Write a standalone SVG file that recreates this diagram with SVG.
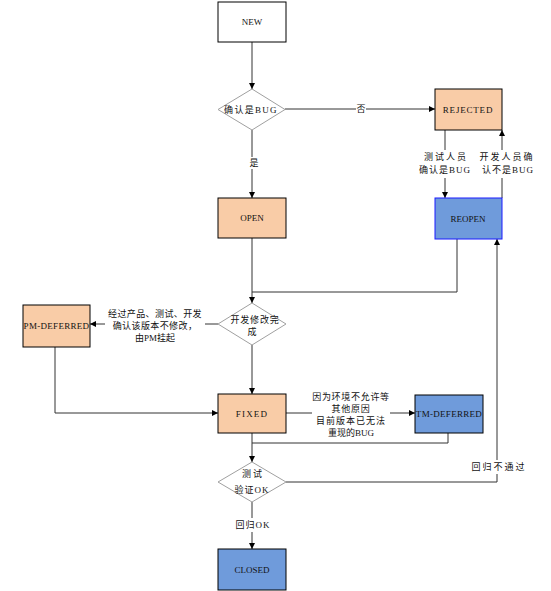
<svg xmlns="http://www.w3.org/2000/svg" width="551" height="591" viewBox="0 0 551 591">
<style>
.t{font-family:"Liberation Serif","Noto Sans CJK SC",serif;font-size:9px;fill:#111;text-anchor:middle;dominant-baseline:central}
.l{font-family:"Liberation Serif","Noto Sans CJK SC",serif;font-size:9px;fill:#111;text-anchor:middle;dominant-baseline:central}
.w{letter-spacing:2px}
.or{fill:#f9cca7;stroke:#000;stroke-width:1}
.bl{fill:#6f9bdb;stroke:#000;stroke-width:1}
.wh{fill:#fff;stroke:#000;stroke-width:1}
.dm{fill:#fff;stroke:#a0a0a0;stroke-width:1}
.c{fill:none;stroke:#333;stroke-width:1}
.bg{fill:#fff}
</style>
<defs>
<marker id="a" viewBox="0 0 8 8" refX="8" refY="4" markerWidth="6" markerHeight="6" orient="auto" markerUnits="userSpaceOnUse">
<path d="M0,0 L8,4 L0,8 z" fill="#000"/>
</marker>
</defs>
<rect width="551" height="591" fill="#fff"/>
<g id="connectors">
<path class="c" d="M252,42 V89" marker-end="url(#a)"/>
<path class="c" d="M285,109 H435" marker-end="url(#a)"/>
<path class="c" d="M252,130 V198" marker-end="url(#a)"/>
<path class="c" d="M445,130 V198" marker-end="url(#a)"/>
<path class="c" d="M502,198 V130" marker-end="url(#a)"/>
<path class="c" d="M252,238 V303" marker-end="url(#a)"/>
<path class="c" d="M457,239 V292 H252"/>
<path class="c" d="M218,324 H90" marker-end="url(#a)"/>
<path class="c" d="M252,345 V394" marker-end="url(#a)"/>
<path class="c" d="M55,347 V413 H218" marker-end="url(#a)"/>
<path class="c" d="M286,413 H415" marker-end="url(#a)"/>
<path class="c" d="M448,433 V443 H252"/>
<path class="c" d="M252,433 V462" marker-end="url(#a)"/>
<path class="c" d="M286,482 H497 V239" marker-end="url(#a)"/>
<path class="c" d="M252,502 V549" marker-end="url(#a)"/>
<rect class="bg" x="356" y="104" width="10" height="11"/>
<text class="l" x="361" y="109">否</text>
<rect class="bg" x="246" y="157" width="14" height="12"/>
<text class="l" x="254" y="163">是</text>
<rect class="bg" x="418" y="150" width="54" height="28"/>
<text class="l w" x="446" y="157">测试人员</text>
<text class="l" x="445" y="170" letter-spacing="1">确认是BUG</text>
<rect class="bg" x="476" y="150" width="64" height="28"/>
<text class="l w" x="507" y="157">开发人员确</text>
<text class="l" x="508" y="170" letter-spacing="1">认不是BUG</text>
<rect class="bg" x="105" y="307" width="100" height="38"/>
<text class="l" x="155" y="314" letter-spacing="0.4">经过产品、测试、开发</text>
<text class="l" x="155" y="326" letter-spacing="0.4">确认该版本不修改，</text>
<text class="l" x="155" y="338">由PM挂起</text>
<rect class="bg" x="312" y="391" width="78" height="48"/>
<text class="l" x="351" y="397" letter-spacing="0.7">因为环境不允许等</text>
<text class="l" x="351" y="409" letter-spacing="0.7">其他原因</text>
<text class="l" x="351" y="421" letter-spacing="1">目前版本已无法</text>
<text class="l" x="351" y="433">重现的BUG</text>
<rect class="bg" x="468" y="460" width="60" height="14"/>
<text class="l w" x="499" y="467">回归不通过</text>
<rect class="bg" x="232" y="518" width="42" height="14"/>
<text class="l" x="253" y="525" letter-spacing="1">回归OK</text>
</g>
<g id="new"><rect class="wh" x="218" y="2" width="68" height="40"/><text class="t" x="252" y="22">NEW</text></g>
<g id="confirm"><polygon class="dm" points="252,89 285,109.5 252,130 218,109.5"/><text class="t" x="251" y="109.5" letter-spacing="1.3">确认是BUG</text></g>
<g id="rejected"><rect class="or" x="435" y="89" width="67" height="41"/><text class="t" x="468" y="109.5" letter-spacing="0.8">REJECTED</text></g>
<g id="open"><rect class="or" x="218" y="198" width="68" height="40"/><text class="t" x="252" y="218">OPEN</text></g>
<g id="reopen"><rect x="435" y="198" width="67" height="41" fill="#6f9bdb" stroke="#1a1aff"/><text class="t" x="468" y="218.5">REOPEN</text></g>
<g id="devdone"><polygon class="dm" points="252,303 286,324 252,345 218,324"/><text class="t" x="255" y="320" letter-spacing="0.8">开发修改完</text><text class="t" x="252" y="332">成</text></g>
<g id="pmdeferred"><rect class="or" x="23" y="305" width="67" height="42"/><text class="t" x="56.5" y="326" letter-spacing="0.3">PM-DEFERRED</text></g>
<g id="fixed"><rect class="or" x="218" y="394" width="68" height="39"/><text class="t" x="252" y="413.5" letter-spacing="1.2">FIXED</text></g>
<g id="tmdeferred"><rect class="bl" x="415" y="395" width="68" height="38"/><text class="t" x="449" y="414" letter-spacing="0.3">TM-DEFERRED</text></g>
<g id="verify"><polygon class="dm" points="252,462 286,482 252,502 218,482"/><text class="t" x="253" y="474" letter-spacing="2">测试</text><text class="t" x="252" y="490" letter-spacing="1">验证OK</text></g>
<g id="closed"><rect class="bl" x="218" y="549" width="68" height="41"/><text class="t" x="252" y="570">CLOSED</text></g>
</svg>
